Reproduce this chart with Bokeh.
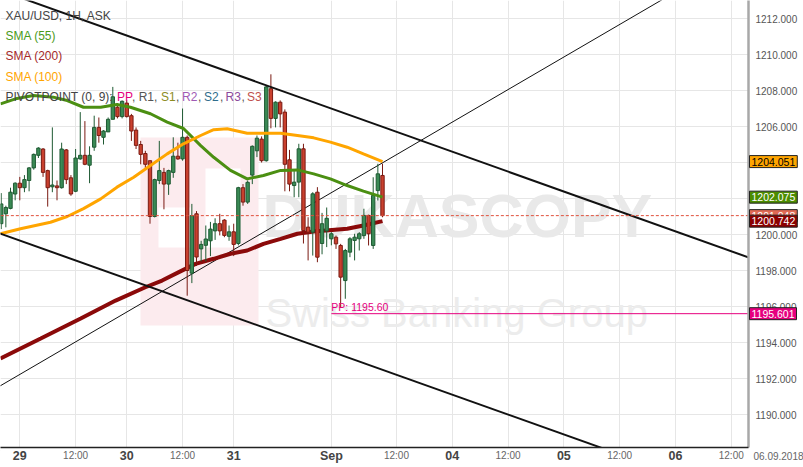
import numpy as np
from bokeh.plotting import figure
from bokeh.models import (Range1d, FixedTicker, NumeralTickFormatter, Label, LabelSet,
                          ColumnDataSource, BoxAnnotation)
from bokeh.core.properties import value
from bokeh.embed import file_html
from bokeh.resources import INLINE

# ---------------- data (hourly candles, slot index) ----------------
opens = [1200.6, 1201.15, 1201.45, 1202.25, 1202.85, 1202.6, 1203.0, 1203.7, 1204.4, 1204.75,
         1203.55, 1202.65, 1202.7, 1202.6, 1204.7, 1203.15, 1202.4, 1204.2, 1204.4, 1203.85,
         1204.85, 1205.95, 1205.4, 1205.7, 1206.4, 1207.07, 1206.55, 1207.3, 1206.6, 1205.8,
         1205.0, 1204.5, 1204.1, 1201.0, 1203.0, 1203.45, 1202.8, 1203.45, 1204.35, 1204.2,
         1205.4, 1197.85, 1201.15, 1199.2, 1199.4, 1199.65, 1200.2, 1200.6, 1200.8, 1199.9,
         1200.15, 1199.5, 1202.6, 1201.8, 1203.3, 1204.65, 1205.3, 1204.1, 1208.1, 1206.45,
         1207.35, 1206.8, 1204.15, 1202.72, 1202.91, 1204.76, 1200.41, 1200.13, 1202.35, 1199.5,
         1200.2, 1199.76, 1199.85, 1199.39, 1197.44, 1199.02, 1199.67, 1199.76, 1199.94, 1201.06,
         1199.39, 1202.44, 1203.28]
highs = [1202.3, 1201.6, 1202.6, 1202.9, 1203.2, 1203.3, 1203.75, 1204.5, 1204.85, 1204.8,
         1203.6, 1205.95, 1203.0, 1205.1, 1204.75, 1203.3, 1204.75, 1206.8, 1206.3, 1204.9,
         1206.6, 1206.5, 1205.8, 1206.5, 1208.2, 1207.3, 1207.45, 1207.45, 1206.7, 1205.95,
         1205.2, 1204.65, 1204.1, 1203.1, 1205.2, 1203.7, 1203.6, 1205.4, 1205.1, 1207.0,
         1205.5, 1201.7, 1201.3, 1199.65, 1200.5, 1200.7, 1200.9, 1201.15, 1200.85, 1200.5,
         1200.6, 1202.65, 1202.8, 1203.0, 1204.95, 1205.5, 1205.45, 1208.3, 1208.9, 1207.4,
         1207.45, 1206.95, 1204.7, 1203.55, 1205.04, 1205.04, 1200.96, 1202.35, 1202.63, 1201.2,
         1201.5, 1200.13, 1199.94, 1199.48, 1199.2, 1199.85, 1200.04, 1200.13, 1201.43, 1201.1,
         1203.18, 1203.93, 1203.93]
lows = [1200.3, 1200.4, 1201.4, 1201.9, 1201.9, 1202.35, 1202.4, 1203.6, 1204.25, 1203.2,
        1201.55, 1202.35, 1201.9, 1202.55, 1202.8, 1202.15, 1202.35, 1204.15, 1203.85, 1202.85,
        1204.65, 1205.1, 1205.0, 1205.7, 1206.4, 1206.45, 1206.45, 1206.5, 1205.2, 1204.75,
        1203.9, 1203.6, 1200.6, 1200.95, 1202.8, 1201.4, 1202.2, 1203.15, 1204.15, 1204.1,
        1196.6, 1197.3, 1198.25, 1198.5, 1198.5, 1198.8, 1199.7, 1199.95, 1199.85, 1199.65,
        1198.8, 1199.4, 1201.6, 1201.7, 1202.8, 1204.3, 1204.0, 1204.05, 1205.9, 1205.95,
        1205.95, 1202.4, 1202.4, 1202.07, 1202.07, 1199.5, 1198.56, 1198.83, 1198.46, 1198.9,
        1199.3, 1199.4, 1199.2, 1195.96, 1196.43, 1198.74, 1198.56, 1199.11, 1199.76, 1199.39,
        1199.2, 1201.89, 1200.96]
closes = [1201.7, 1201.5, 1202.35, 1202.85, 1202.6, 1203.05, 1203.7, 1204.45, 1204.8, 1203.45,
          1202.6, 1202.75, 1202.6, 1204.75, 1203.05, 1202.25, 1204.25, 1204.4, 1203.9, 1204.4,
          1205.95, 1205.5, 1205.75, 1206.4, 1207.65, 1206.55, 1207.4, 1206.55, 1205.75, 1204.95,
          1204.45, 1203.9, 1201.0, 1203.05, 1203.55, 1202.8, 1203.55, 1204.35, 1204.2, 1205.4,
          1198.0, 1201.05, 1198.75, 1199.45, 1199.75, 1200.3, 1200.6, 1200.2, 1199.95, 1200.15,
          1199.45, 1202.6, 1201.8, 1202.9, 1204.9, 1205.35, 1204.1, 1208.2, 1206.45, 1207.35,
          1206.7, 1203.9, 1202.8, 1202.91, 1204.76, 1200.22, 1200.13, 1202.26, 1198.74, 1200.6,
          1200.9, 1200.04, 1199.48, 1197.63, 1199.11, 1199.76, 1199.85, 1200.04, 1201.06, 1200.04,
          1202.17, 1203.37, 1201.048]

# moving averages read at sample slots
sma55_slot = [-0.15, 3.4, 6.9, 11.2, 14.2, 17.7, 21.4, 24.9, 27.8, 32.1, 35.7, 39.2, 42.9, 45.7,
              49.3, 52.9, 56.4, 60.1, 63.7, 67.2, 70.8, 74.4, 77.9, 82]
sma55_val = [1207.26, 1207.56, 1207.72, 1207.63, 1207.44, 1207.07, 1207.07, 1207.22, 1207.07,
             1206.71, 1206.24, 1205.89, 1204.94, 1204.29, 1203.56, 1203.09, 1203.28, 1203.56,
             1203.59, 1203.37, 1203.09, 1202.72, 1202.41, 1202.075]
sma100_slot = [-0.15, 4.15, 10.6, 14.2, 17.7, 21.4, 24.9, 28.5, 32.1, 35.7, 39.2, 42.9, 45.7,
               48.6, 52.9, 60.1, 63.7, 67.2, 70.8, 74.4, 77.9, 82]
sma100_val = [1200.04, 1200.32, 1200.68, 1201.0, 1201.44, 1201.98, 1202.63, 1203.18, 1203.83,
              1204.48, 1205.04, 1205.5, 1205.82, 1205.87, 1205.63, 1205.63, 1205.5, 1205.37,
              1205.13, 1204.85, 1204.48, 1204.051]
sma200_slot = [-0.15, 8.5, 17.1, 24.6, 31.0, 34.6, 38.2, 41.8, 45.7, 49.3, 52.9, 56.4, 60.1,
               63.7, 67.2, 74.4, 77.9, 82]
sma200_val = [1193.11, 1194.22, 1195.33, 1196.33, 1197.07, 1197.44, 1197.91, 1198.37, 1198.65,
              1198.93, 1199.11, 1199.48, 1199.76, 1200.04, 1200.17, 1200.32, 1200.5, 1200.742]

# trend lines (slot, price) end points
chan_upper_slot = [-4, 175];   chan_upper_val = [1213.91, 1197.41]
chan_lower_slot = [-4, 165];   chan_lower_val = [1200.40, 1184.84]
rising_slot = [-4, 150];       rising_val = [1191.02, 1214.23]

pivot_pp = 1195.601
pivot_start_slot = 71
last_price = 1201.048

price_ticks = [1188, 1190, 1192, 1194, 1196, 1198, 1200, 1202, 1204, 1206, 1208, 1210, 1212]
day_ticks = [4, 27, 50, 71, 97, 121, 145]
day_labels = ["29", "30", "31", "Sep", "04", "05", "06"]
half_ticks = [16, 39, 85, 109, 133, 157]
half_labels = ["12:00"] * len(half_ticks)
date_label = "06.09.2018"

tag_values = [1204.051, 1202.075, 1201.048, 1200.742, 1195.601]
tag_texts = ["1204.051", "1202.075", "1201.048", "1200.742", "1195.601"]
tag_fill = ["#ffa500", "#4c8c00", "#e06a55", "#8b0000", "#e6007e"]
tag_color = ["#000000", "#ffffff", "#ffffff", "#ffffff", "#ffffff"]

# ---------------- layout constants ----------------
W, H = 803, 467            # whole canvas is the plotting frame
PX_SLOT, PX_PRICE = 4.65, 18.0
x_start = -0.7 / PX_SLOT           # slot shown at the left edge
x_end = x_start + W / PX_SLOT
y_top = 1213.0                     # price shown at the top edge
y_bot = y_top - H / PX_PRICE
plot_right = x_start + 748 / PX_SLOT   # where the price scale strip begins
plot_bottom = y_top - 447 / PX_PRICE   # where the time scale strip begins

p = figure(width=W, height=H, output_backend="svg", toolbar_location=None,
           x_range=Range1d(x_start, x_end), y_range=Range1d(y_bot, y_top),
           y_axis_location="right", min_border_left=0, min_border_top=0,
           min_border_right=0, min_border_bottom=0)
p.background_fill_color = "#ffffff"
p.border_fill_color = "#ffffff"
p.outline_line_color = None

# axes (labels pulled inside the canvas)
ya = p.yaxis[0]
ya.ticker = FixedTicker(ticks=price_ticks[1:])
ya.formatter = NumeralTickFormatter(format="0.000")
ya.major_label_text_font = "Liberation Sans"
ya.major_label_text_font_size = "10px"
ya.major_label_text_color = "#555555"
ya.major_tick_out = 0
ya.major_tick_in = 0
ya.minor_tick_out = 0
ya.minor_tick_in = 0
ya.major_label_standoff = -48
ya.axis_line_color = None

xa = p.xaxis[0]
xa.ticker = FixedTicker(ticks=day_ticks)
xa.major_label_overrides = {t: l for t, l in zip(day_ticks, day_labels)}
xa.major_label_text_font = "Liberation Sans"
xa.major_label_text_font_size = "12.5px"
xa.major_label_text_font_style = "bold"
xa.major_label_text_color = "#444444"
xa.major_tick_out = 0
xa.major_tick_in = 0
xa.minor_tick_out = 0
xa.minor_tick_in = 0
xa.major_label_standoff = -19
xa.axis_line_color = None

p.xgrid[0].ticker = FixedTicker(ticks=sorted(day_ticks + half_ticks))
p.ygrid[0].ticker = FixedTicker(ticks=price_ticks)
p.xgrid.grid_line_color = "#e6e6e6"
p.ygrid.grid_line_color = "#e6e6e6"

# watermark
p.add_layout(BoxAnnotation(left=140, right=258, top=H - 137, bottom=H - 325,
                           left_units="screen", right_units="screen", top_units="screen",
                           bottom_units="screen", fill_color="#fcebee", fill_alpha=1.0,
                           line_color=None, level="underlay"))
for l, r, t, b in [(158, 190, 207, 247), (205, 240, 168, 247)]:
    p.add_layout(BoxAnnotation(left=l, right=r, top=H - t, bottom=H - b,
                               left_units="screen", right_units="screen", top_units="screen",
                               bottom_units="screen", fill_color="#ffffff", fill_alpha=1.0,
                               line_color=None, level="underlay"))
p.add_layout(Label(x=262, y=H - 215, x_units="screen", y_units="screen", text="DUKASCOPY",
                   text_font="Liberation Sans", text_font_style="bold",
                   text_font_size="61px", text_color="#e9e9e9", text_baseline="alphabetic",
                   level="underlay"))
p.add_layout(Label(x=265, y=H - 312, x_units="screen", y_units="screen",
                   text="Swiss Banking Group", text_font="Liberation Sans",
                   text_font_size="40px", text_color="#ececec", text_baseline="alphabetic",
                   level="underlay"))

# trend line (thin)
p.line(rising_slot, rising_val, line_color="#111111", line_width=1)

# SMA 200 under candles
p.line(sma200_slot, sma200_val, line_color="#8b0a0a", line_width=4)

# candles
slots = np.arange(len(opens))
o = np.array(opens); c = np.array(closes)
up = c >= o
src = ColumnDataSource(dict(x=slots, o=o, c=c, h=np.array(highs), l=np.array(lows),
                            top=np.maximum(o, c), bot=np.minimum(o, c),
                            fill=np.where(up, "#3a8a55", "#c9402e"),
                            edge=np.where(up, "#1f5a33", "#7a1a12")))
p.segment(x0="x", y0="l", x1="x", y1="h", line_color="edge", line_width=1, source=src)
p.vbar(x="x", width=0.72, top="top", bottom="bot", fill_color="fill", line_color="edge",
       line_width=1, source=src)

p.line(sma55_slot, sma55_val, line_color="#4b8f12", line_width=3)
p.line(sma100_slot, sma100_val, line_color="#ffa500", line_width=3)

p.line(chan_upper_slot, chan_upper_val, line_color="#111111", line_width=2)
p.line(chan_lower_slot, chan_lower_val, line_color="#111111", line_width=2)

# current price line
p.segment(x0=[x_start - 1], y0=[last_price], x1=[plot_right], y1=[last_price],
          line_color="#e0503c", line_width=1, line_dash="3 2")

# pivot point
p.segment(x0=[pivot_start_slot], y0=[pivot_pp], x1=[plot_right], y1=[pivot_pp],
          line_color="#e6007e", line_width=1)
p.text(x=[pivot_start_slot], y=[pivot_pp], text=["PP: 1195.60"], text_color="#e6007e",
       text_font=value("Liberation Sans"), text_font_size="10.5px", text_baseline="bottom",
       y_offset=-1)

# scale strips (white), drawn over the glyphs, below the axis labels
p.quad(left=[plot_right], right=[x_end + 5], bottom=[y_bot - 5], top=[y_top + 5],
       fill_color="#ffffff", line_color=None)
p.quad(left=[x_start - 5], right=[x_end + 5], bottom=[y_bot - 5], top=[plot_bottom],
       fill_color="#ffffff", line_color=None)
p.segment(x0=[plot_right], y0=[plot_bottom], x1=[plot_right], y1=[y_top + 1],
          line_color="#a8a8a8", line_width=2.5)
p.segment(x0=[x_start - 1], y0=[plot_bottom], x1=[plot_right], y1=[plot_bottom],
          line_color="#222222", line_width=1.5)

# "12:00" labels and right date
half_src = ColumnDataSource(dict(x=half_ticks, y=[12] * len(half_ticks), t=half_labels))
p.add_layout(LabelSet(x="x", y="y", text="t", x_units="data", y_units="screen",
                      source=half_src, text_align="center", text_baseline="middle",
                      text_font=value("Liberation Sans"), text_font_size="10px",
                      text_color="#666666"))
p.add_layout(Label(x=778, y=12, x_units="screen", y_units="screen", text=date_label,
                   text_align="center", text_baseline="middle", text_font="Liberation Sans",
                   text_font_size="10px", text_color="#666666"))

# legend texts
legend_items = [("XAU/USD, 1H, ASK", "#444444", 5, 15),
                ("SMA (55)", "#4b9a1a", 5, 35),
                ("SMA (200)", "#a52a2a", 5, 55),
                ("SMA (100)", "#ffa500", 5, 76),
                ("PIVOTPOINT (0, 9):", "#444444", 5, 96),
                ("PP", "#e6007e", 116.5, 96),
                (", R1,", "#555555", 131.5, 96),
                ("S1", "#8c8c1e", 160.5, 96),
                (",", "#555555", 175.5, 96),
                ("R2", "#a05ab4", 181.5, 96),
                (",", "#555555", 197.5, 96),
                ("S2", "#2f6d8c", 203.5, 96),
                (",", "#555555", 219.5, 96),
                ("R3", "#8c4a9c", 225, 96),
                (",", "#555555", 241, 96),
                ("S3", "#c0504d", 246.5, 96)]
for txt, col, lx, ly in legend_items:
    p.add_layout(Label(x=lx, y=H - ly, x_units="screen", y_units="screen", text=txt,
                       text_color=col, text_font="Liberation Sans", text_font_size="12px",
                       text_baseline="middle"))

# right price tags
for v, t, f, tc in zip(tag_values, tag_texts, tag_fill, tag_color):
    p.add_layout(Label(x=749, y=v, x_units="screen", y_units="data", text=t,
                       text_color=tc, text_font="Liberation Sans", text_font_size="10.5px",
                       text_baseline="middle", background_fill_color=f,
                       border_line_color="#222222", border_line_width=1, padding=2))

open("out.html", "w").write(file_html(p, INLINE))
